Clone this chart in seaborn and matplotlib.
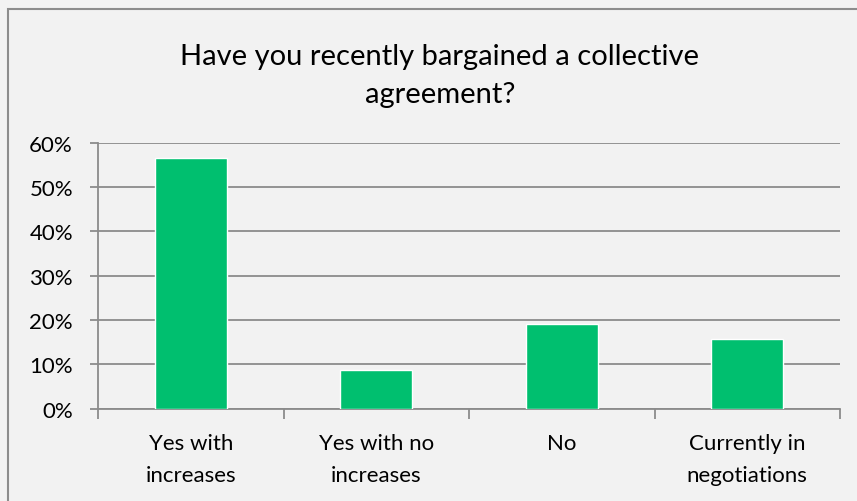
import matplotlib
matplotlib.use("Agg")
import matplotlib.pyplot as plt
from matplotlib.patches import Rectangle
from matplotlib.ticker import FixedLocator, PercentFormatter
import seaborn as sns
import pandas as pd

categories = ["Yes with\nincreases", "Yes with no\nincreases", "No", "Currently in\nnegotiations"]
shares = [0.565, 0.087, 0.191, 0.157]
y_ticks = [0.0, 0.1, 0.2, 0.3, 0.4, 0.5, 0.6]
title = "Have you recently bargained a collective\nagreement?"

bg = "#F2F2F2"
bar_color = "#00BF6F"
line_gray = "#8C8C8C"

sns.set_theme(style="white")
plt.rcParams["font.family"] = ["Lato", "DejaVu Sans"]

df = pd.DataFrame({"category": categories, "share": shares})

fig = plt.figure(figsize=(8.57, 5.02), dpi=100, facecolor=bg)
ax = fig.add_axes([98 / 857, 1 - 409.5 / 502, (840 - 98) / 857, (409.5 - 143.7) / 502])
ax.set_facecolor(bg)

sns.barplot(data=df, x="category", y="share", color=bar_color, width=0.39,
            saturation=1, ax=ax, zorder=3)

ax.set_ylim(0, 0.6)
ax.set_xlim(-0.5, len(categories) - 0.5)
ax.set_yticks(y_ticks)
ax.yaxis.set_major_formatter(PercentFormatter(1.0, decimals=0))
ax.yaxis.grid(True, color=line_gray, linewidth=1.3, zorder=0)
ax.set_axisbelow(True)

# category labels centred, tick marks on category boundaries
ax.xaxis.set_minor_locator(FixedLocator([i - 0.5 for i in range(len(categories) + 1)]))
ax.tick_params(axis="x", which="major", length=0, pad=18, labelsize=16, colors="#000000")
ax.tick_params(axis="x", which="minor", length=7, width=1.3, color=line_gray, direction="out", bottom=True)
ax.tick_params(axis="y", which="major", length=6, width=1.3, direction="out",
               left=True, labelsize=16, pad=12, labelcolor="#000000", color=line_gray)
for lbl in ax.get_xticklabels():
    lbl.set_linespacing(1.75)

for s in ["top", "right"]:
    ax.spines[s].set_visible(False)
for s in ["left", "bottom"]:
    ax.spines[s].set_color(line_gray)
    ax.spines[s].set_linewidth(1.3)

ax.set_xlabel("")
ax.set_ylabel("")

fig.text(440 / 857, 1 - 76 / 502, title, ha="center", va="center", fontsize=21,
         linespacing=1.6, color="#000000")

fig.patches.append(Rectangle((8 / 857, -0.05), 1.0, 1 - 10 / 502 + 0.05,
                             transform=fig.transFigure, fill=False,
                             edgecolor=line_gray, linewidth=1.5))

fig.savefig("out.png", dpi=100, facecolor=bg)
